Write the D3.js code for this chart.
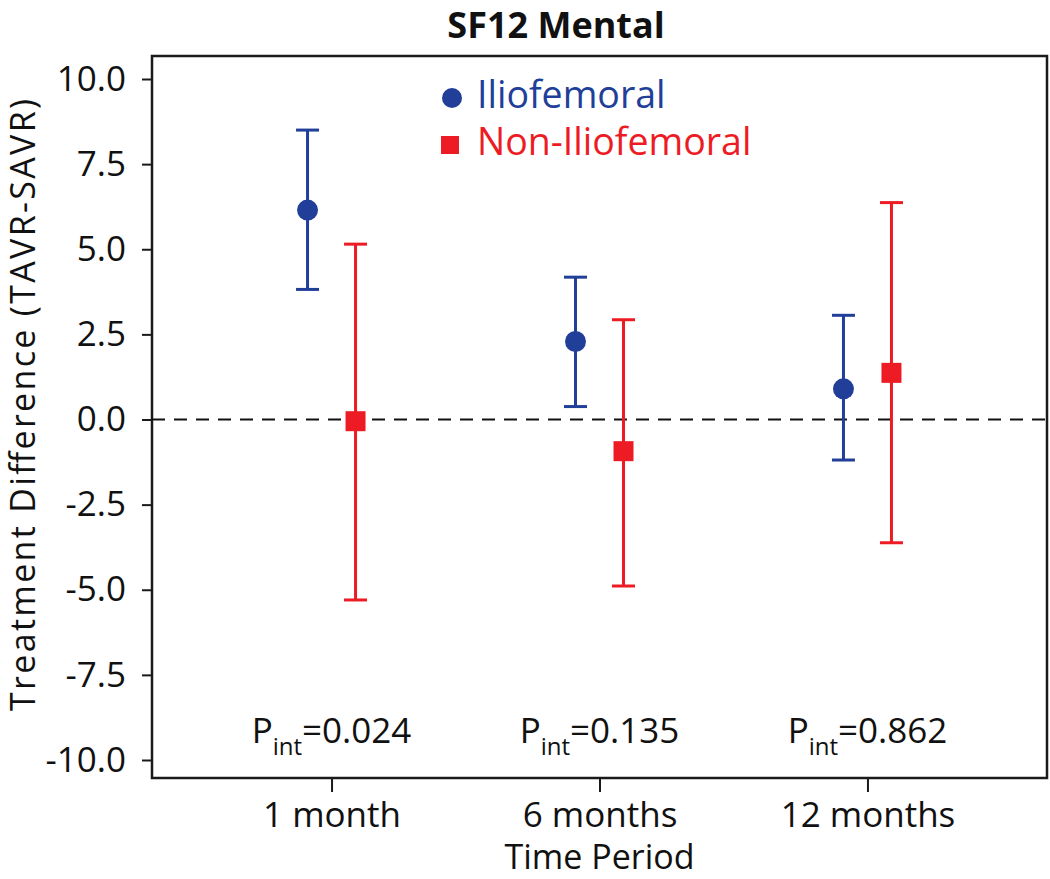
<!DOCTYPE html>
<html>
<head>
<meta charset="utf-8">
<script src="https://cdn.jsdelivr.net/npm/d3@7"></script>
<style>
  html, body { margin: 0; padding: 0; background: #fff; }
  svg { display: block; }
  text { font-family: "Open Sans", "Noto Sans", sans-serif; }
</style>
</head>
<body>
<svg id="chart" width="1050" height="879"></svg>
<script>
const categories = ["1 month", "6 months", "12 months"];
const ilioMean = [6.15, 2.29, 0.90];
const ilioLow  = [3.82, 0.38, -1.19];
const ilioHigh = [8.50, 4.18, 3.06];
const nonMean  = [-0.05, -0.93, 1.37];
const nonLow   = [-5.30, -4.89, -3.62];
const nonHigh  = [5.15, 2.93, 6.37];
const pint = ["0.024", "0.135", "0.862"];
const yTicks = [10, 7.5, 5, 2.5, 0, -2.5, -5, -7.5, -10];
const seriesNames = ["Iliofemoral", "Non-Iliofemoral"];

const blue = "#213f99";
const red = "#ed1c24";

const svg = d3.select("#chart");
const box = {left: 152, right: 1047, top: 56, bottom: 778};

const x = d3.scalePoint().domain(categories).range([box.left, box.right]).padding(0.67);
const y = d3.scaleLinear().domain([-10, 10]).range([760, 79]);
const off = 24;

// box
svg.append("rect")
  .attr("x", box.left).attr("y", box.top)
  .attr("width", box.right - box.left).attr("height", box.bottom - box.top)
  .attr("fill", "none").attr("stroke", "#1a1a1a").attr("stroke-width", 2.5);

// y axis
const yAxis = svg.append("g")
  .attr("transform", `translate(${box.left},0)`)
  .call(d3.axisLeft(y).tickValues(yTicks).tickFormat(d3.format(".1f")).tickSize(10).tickPadding(16));
yAxis.select(".domain").remove();
yAxis.selectAll(".tick line").attr("stroke", "#1a1a1a").attr("stroke-width", 2);
yAxis.selectAll(".tick text").attr("font-size", 35).attr("fill", "#111")
  .attr("font-family", "'Open Sans', sans-serif").text(d => d3.format(".1f")(d).replace("−", "-"));

// x axis
const xAxis = svg.append("g")
  .attr("transform", `translate(0,${box.bottom})`)
  .call(d3.axisBottom(x).tickSize(14).tickPadding(10));
xAxis.select(".domain").remove();
xAxis.selectAll(".tick line").attr("stroke", "#1a1a1a").attr("stroke-width", 2);
xAxis.selectAll(".tick text").attr("font-size", 35).attr("fill", "#111")
  .attr("font-family", "'Open Sans', sans-serif");

// zero reference line
svg.append("line")
  .attr("x1", box.left).attr("x2", box.right)
  .attr("y1", y(0)).attr("y2", y(0))
  .attr("stroke", "#111").attr("stroke-width", 2).attr("stroke-dasharray", "13,9");

// series
const series = [
  {name: seriesNames[0], mean: ilioMean, low: ilioLow, high: ilioHigh, color: blue, dx: -off, shape: "circle"},
  {name: seriesNames[1], mean: nonMean, low: nonLow, high: nonHigh, color: red, dx: off, shape: "square"}
];
const capHalf = 11.5;
series.forEach(s => {
  const g = svg.append("g");
  categories.forEach((c, i) => {
    const cx = x(c) + s.dx;
    g.append("line").attr("x1", cx).attr("x2", cx)
      .attr("y1", y(s.low[i])).attr("y2", y(s.high[i]))
      .attr("stroke", s.color).attr("stroke-width", 3);
    [s.low[i], s.high[i]].forEach(v => {
      g.append("line").attr("x1", cx - capHalf).attr("x2", cx + capHalf)
        .attr("y1", y(v)).attr("y2", y(v))
        .attr("stroke", s.color).attr("stroke-width", 3);
    });
    if (s.shape === "circle") {
      g.append("circle").attr("cx", cx).attr("cy", y(s.mean[i])).attr("r", 10.5).attr("fill", s.color);
    } else {
      g.append("rect").attr("x", cx - 10).attr("y", y(s.mean[i]) - 10)
        .attr("width", 20).attr("height", 20).attr("fill", s.color);
    }
  });
});

// P interaction labels
categories.forEach((c, i) => {
  const t = svg.append("text").attr("x", x(c)).attr("y", 743)
    .attr("text-anchor", "middle").attr("font-size", 35).attr("fill", "#111");
  t.append("tspan").text("P");
  t.append("tspan").attr("font-size", 24).attr("dy", 12).text("int");
  t.append("tspan").attr("dy", -12).text("=" + pint[i]);
});

// legend
svg.append("circle").attr("cx", 452).attr("cy", 98).attr("r", 10).attr("fill", blue);
svg.append("text").attr("x", 477).attr("y", 108).attr("font-size", 37.5).attr("fill", blue).text(seriesNames[0]);
svg.append("rect").attr("x", 441).attr("y", 136).attr("width", 18).attr("height", 18).attr("fill", red);
svg.append("text").attr("x", 477).attr("y", 155).attr("font-size", 37.5).attr("fill", red).text(seriesNames[1]);

// title
svg.append("text").attr("x", 556).attr("y", 38).attr("text-anchor", "middle")
  .attr("font-size", 36).attr("font-weight", "bold").attr("fill", "#111").text("SF12 Mental");

// axis titles
svg.append("text").attr("transform", "translate(35,405) rotate(-90)")
  .attr("text-anchor", "middle").attr("font-size", 34).attr("fill", "#111")
  .attr("textLength", 612).attr("lengthAdjust", "spacing")
  .text("Treatment Difference (TAVR-SAVR)");
svg.append("text").attr("x", x(categories[1])).attr("y", 869)
  .attr("text-anchor", "middle").attr("font-size", 34).attr("fill", "#111").text("Time Period");
</script>
</body>
</html>
